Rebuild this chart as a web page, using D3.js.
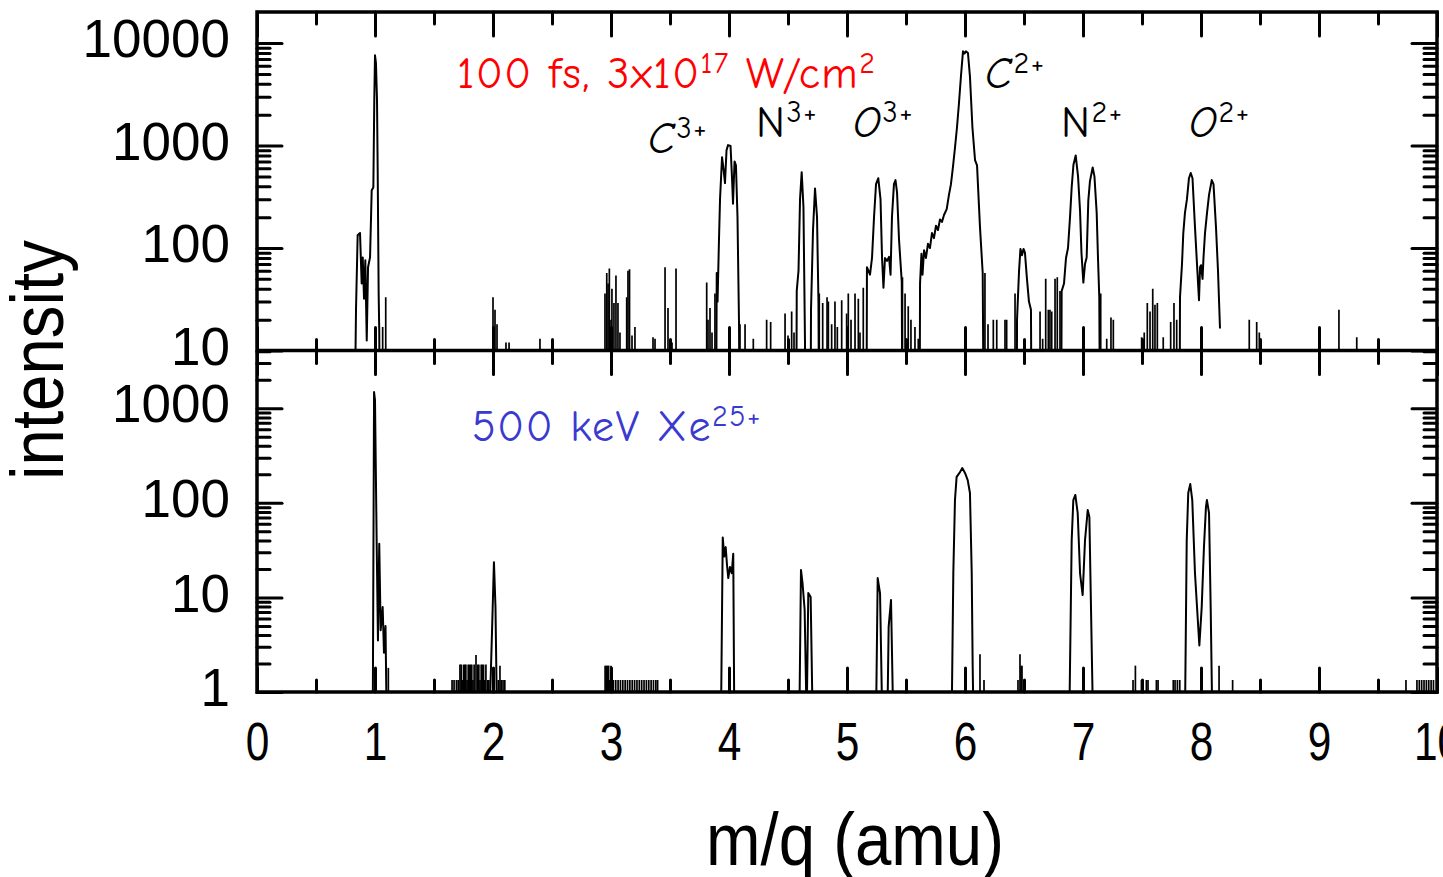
<!DOCTYPE html>
<html>
<head>
<meta charset="utf-8">
<script src="https://cdn.jsdelivr.net/npm/d3@7"></script>
<style>
body { margin: 0; background: #fff; }
svg { display: block; }
.tick line { stroke: #000; stroke-width: 3; stroke-linecap: round; }
.ylab text { font-family: "Liberation Sans", Arial, sans-serif; font-size: 53px; fill: #000; }
.xlab text { font-family: "Liberation Sans", Arial, sans-serif; font-size: 53px; fill: #000; }
.note { font-family: "Comic Sans MS", "Comic Neue", "Noto Sans", sans-serif; font-size: 44px; letter-spacing: 1.5px; }
.title { font-family: "Liberation Sans", Arial, sans-serif; font-size: 74px; fill: #000; }
</style>
</head>
<body>
<script>
// x ticks (m/q) and y decades
var mqMajor = [0, 1, 2, 3, 4, 5, 6, 7, 8, 9, 10];
var mqMinor = [0.5, 1.5, 2.5, 3.5, 4.5, 5.5, 6.5, 7.5, 8.5, 9.5];
var laserDecades = [10, 100, 1000, 10000];
var ionDecades = [1, 10, 100, 1000];

// 100 fs laser spectrum: [m/q, intensity]; 1 = below the axis
var laserTrace = [
  [0.80,1],[0.825,1],[0.839,25],[0.853,133],[0.873,140],[0.887,45],[0.896,81],[0.907,32],[0.918,76],
  [0.930,12.5],[0.941,65],[0.958,81],[0.972,366],[0.986,390],[0.994,2780],[1.000,7600],[1.008,6400],
  [1.017,2780],[1.023,540],[1.031,36],[1.036,15.7],[1.042,1],
  [3.890,1],[3.896,57],[3.903,30],[3.915,120],[3.924,300],[3.941,770],[3.953,600],[3.966,430],[3.979,900],
  [3.992,1010],[4.013,990],[4.025,500],[4.034,270],[4.047,700],[4.059,640],[4.072,200],[4.085,18],[4.090,1],
  [4.570,1],[4.574,38],[4.589,60],[4.602,300],[4.616,550],[4.631,250],[4.644,12],[4.650,1],
  [4.690,1],[4.695,25],[4.712,150],[4.729,380],[4.746,200],[4.758,30],[4.765,1],
  [5.165,1],[5.169,65],[5.195,55],[5.212,80],[5.229,200],[5.246,420],[5.265,480],[5.284,300],[5.297,80],
  [5.309,41],[5.322,80],[5.339,75],[5.356,82],[5.369,55],[5.381,200],[5.398,420],[5.411,460],[5.424,350],
  [5.441,120],[5.464,47],[5.470,1],
  [5.615,1],[5.619,45],[5.631,88],[5.640,55],[5.653,95],[5.669,80],[5.686,110],[5.703,100],[5.720,140],
  [5.737,125],[5.754,165],[5.771,150],[5.788,190],[5.805,180],[5.822,210],[5.845,240],[5.864,330],
  [5.881,420],[5.898,620],[5.915,950],[5.932,1500],[5.949,2600],[5.966,4800],[5.983,8300],[5.996,7900],
  [6.008,8300],[6.025,8000],[6.042,4700],[6.063,1500],[6.085,720],[6.102,640],[6.127,160],[6.150,57],[6.160,1],
  [6.438,1],[6.441,20],[6.458,60],[6.470,98],[6.483,85],[6.496,98],[6.508,90],[6.525,50],[6.542,30],
  [6.559,25],[6.565,1],
  [6.815,1],[6.819,38],[6.839,45],[6.856,80],[6.873,100],[6.890,200],[6.904,390],[6.919,650],[6.938,800],
  [6.958,500],[6.975,230],[6.987,90],[7.003,46],[7.017,70],[7.031,81],[7.045,290],[7.059,450],[7.082,610],
  [7.097,500],[7.116,220],[7.127,80],[7.138,33],[7.145,1],
  [7.818,1],[7.822,33],[7.839,70],[7.850,140],[7.864,220],[7.881,300],[7.898,480],[7.913,540],[7.928,480],
  [7.949,160],[7.966,70],[7.983,31],[7.992,65],[8.000,68],[8.013,50],[8.021,80],[8.034,140],[8.051,220],
  [8.068,330],[8.091,460],[8.106,420],[8.127,160],[8.144,60],[8.161,16.4]
];

// isolated noise counts in the laser spectrum: [m/q, intensity]
var laserNoise = [
  [1.065,17],[1.091,33],
  [2.000,33],[2.017,25],[2.034,18],[2.110,12],[2.136,12],[2.398,13],
  [2.949,36],[2.964,57],[2.975,45],[2.986,63],[3.000,20],[3.008,40],[3.025,29],[3.042,54],[3.059,29],
  [3.076,15],[3.133,33],[3.144,60],[3.157,62],[3.178,14],[3.203,17],[3.356,13.5],[3.373,13],
  [3.458,65],[3.483,26],[3.517,12],[3.551,63],
  [3.811,46],[3.822,20],[3.839,26],[3.856,15],[3.881,36],
  [4.093,18],[4.136,18],[4.206,13],[4.319,20],[4.353,19],[4.475,23],[4.500,14],[4.531,24],[4.551,15],
  [4.765,36],[4.794,29],[4.831,33],[4.842,30],[4.870,18],[4.898,30],[4.918,17],[4.955,31],[4.997,23],
  [5.011,36],[5.034,20],[5.068,36],[5.096,32],[5.110,15],[5.138,41],
  [5.470,52],[5.492,36],[5.519,27],[5.542,20],[5.576,17],[5.604,13],
  [6.169,57],[6.195,18],[6.240,20],[6.269,20],[6.339,20],[6.353,20],[6.424,36],
  [6.636,24],[6.658,13],[6.684,50],[6.706,25],[6.720,25],[6.735,24],[6.763,50],[6.782,52],[6.805,38],
  [7.150,36],[7.201,13],[7.237,21],[7.257,20],
  [7.497,13.5],[7.519,15],[7.545,29],[7.568,24],[7.591,40],[7.610,28],[7.630,29],[7.680,13.5],
  [7.743,19],[7.771,29],[7.794,20],
  [8.409,20],[8.472,19],[8.494,15],[9.169,25],[9.320,13.5]
];

// 500 keV Xe25+ spectrum: [m/q, intensity]; 0.5 = below the axis
var ionTrace = [
  [0.970,0.5],[0.981,0.5],[0.992,1480],[1.000,1220],[1.014,40],[1.025,3.5],[1.036,37],[1.048,4.5],
  [1.065,7.9],[1.076,2.6],[1.089,5],[1.099,0.5],
  [1.970,0.5],[1.992,4.5],[2.008,23.6],[2.021,7.9],[2.034,0.5],
  [3.932,0.5],[3.947,43],[3.960,27],[3.972,34],[3.983,22],[3.994,16],[4.008,21],[4.023,18],[4.036,29],[4.045,0.5],
  [4.596,0.5],[4.610,19.5],[4.623,14.2],[4.641,7.4],[4.658,0.5],[4.672,11.1],[4.692,10.1],[4.709,0.5],
  [5.246,0.5],[5.260,16],[5.280,11],[5.299,0.5],[5.342,0.5],[5.353,4.9],[5.373,9.4],[5.392,0.5],
  [5.887,0.5],[5.901,18],[5.915,107],[5.929,188],[5.958,211],[5.977,233],[6.000,207],[6.023,174],
  [6.042,127],[6.057,18],[6.065,1.9],[6.072,0.5],
  [6.884,0.5],[6.904,40],[6.918,107],[6.935,121],[6.955,78],[6.975,18],[6.997,10.6],[7.017,40],
  [7.040,84],[7.054,71],[7.065,12],[7.079,1.3],[7.085,0.5],
  [7.864,0.5],[7.879,40],[7.892,127],[7.909,158],[7.926,107],[7.949,18],[7.986,3.1],[8.006,7.9],
  [8.025,34],[8.042,90],[8.050,107],[8.068,78],[8.082,7.9],[8.096,0.5]
];

// low-count noise in the ion spectrum: [m/q, intensity]
var ionNoise = [
  [1.113,1.8],
  [1.653,1.34],[1.670,1.34],[1.690,1.34],[1.705,1.34],[1.720,1.95],[1.730,1.95],[1.740,1.34],[1.750,1.95],
  [1.760,1.95],[1.770,1.95],[1.780,1.34],[1.790,1.95],[1.800,1.95],[1.810,1.95],[1.820,1.95],[1.830,1.34],
  [1.840,1.95],[1.856,2.46],[1.870,1.95],[1.880,1.95],[1.890,1.34],[1.900,1.95],[1.910,1.95],[1.920,1.95],
  [1.930,1.34],[1.940,1.95],[1.955,1.34],[1.965,1.34],[2.045,1.34],[2.059,1.9],[2.070,1.34],[2.085,1.34],[2.100,1.34],
  [2.950,1.9],[2.960,1.9],[2.970,1.9],[2.980,1.9],[2.990,1.34],[3.000,1.9],[3.010,1.34],[3.020,1.34],
  [3.040,1.34],[3.060,1.34],[3.080,1.34],[3.100,1.34],[3.120,1.34],[3.140,1.34],[3.160,1.34],[3.180,1.34],
  [3.200,1.34],[3.220,1.34],[3.240,1.34],[3.260,1.34],[3.280,1.34],[3.300,1.34],[3.320,1.34],[3.340,1.34],
  [3.360,1.34],[3.380,1.34],[3.395,1.34],
  [6.127,2.5],[6.161,1.34],
  [6.449,1.34],[6.466,2.5],[6.475,1.9],[6.483,1.9],[6.500,1.34],
  [7.424,1.34],[7.444,1.9],[7.495,1.34],[7.509,1.34],[7.537,1.34],[7.551,1.34],[7.622,1.34],[7.636,1.34],
  [7.765,1.34],[7.780,1.34],[7.800,1.34],[7.820,1.34],
  [8.153,1.9],[8.268,1.34],
  [9.737,1.34],[9.830,1.34],[9.850,1.34],[9.870,1.34],[9.890,1.34],[9.910,1.34],[9.930,1.34],[9.950,1.34],[9.970,1.34]
];

var width = 1443, height = 877;
var frame = {left: 257, right: 1437, top: 12, mid: 350.5, bottom: 692};

var x = d3.scaleLinear().domain([0, 10]).range([frame.left, frame.right]);
var yTop = d3.scaleLog().domain([10, 20100]).range([frame.mid, frame.top]);
var yBot = d3.scaleLog().domain([1, 4075]).range([frame.bottom, frame.mid]);

var svg = d3.select("body").append("svg")
    .attr("width", width)
    .attr("height", height);

// minor log ticks 2..9 inside the domain
function minorTicks(scale) {
  var d = scale.domain(), out = [];
  for (var p = Math.floor(Math.log10(d[0])); p <= Math.ceil(Math.log10(d[1])); p++) {
    for (var k = 2; k <= 9; k++) {
      var v = k * Math.pow(10, p);
      if (v > d[0] && v < d[1] * 0.99) out.push(v);
    }
  }
  return out;
}

var noDomain = function(g) { g.select(".domain").remove(); };

// clip each panel
var defs = svg.append("defs");
defs.append("clipPath").attr("id", "clipTop").append("rect")
    .attr("x", frame.left).attr("y", frame.top)
    .attr("width", frame.right - frame.left).attr("height", frame.mid - frame.top);
defs.append("clipPath").attr("id", "clipBot").append("rect")
    .attr("x", frame.left).attr("y", frame.mid)
    .attr("width", frame.right - frame.left).attr("height", frame.bottom - frame.mid);

function drawPanel(id, y, trace, noise, floor) {
  var g = svg.append("g").attr("clip-path", "url(#" + id + ")");
  var line = d3.line().x(function(d) { return x(d[0]); }).y(function(d) { return y(d[1]); });
  g.append("path")
      .datum(trace)
      .attr("d", line)
      .attr("fill", "none")
      .attr("stroke", "#000")
      .attr("stroke-width", 2)
      .attr("stroke-linejoin", "round");
  g.selectAll("line.noise")
    .data(noise)
    .join("line")
      .attr("class", "noise")
      .attr("x1", function(d) { return x(d[0]); })
      .attr("x2", function(d) { return x(d[0]); })
      .attr("y1", y(floor))
      .attr("y2", function(d) { return y(d[1]); })
      .attr("stroke", "#000")
      .attr("stroke-width", 1.7);
}

drawPanel("clipTop", yTop, laserTrace, laserNoise, 1);
drawPanel("clipBot", yBot, ionTrace, ionNoise, 0.5);

// x ticks on the four horizontal edges, all pointing inward
function xTicks(axisFn, ypos, major, minor, labels) {
  svg.append("g").attr("transform", "translate(0," + ypos + ")")
      .call(axisFn(x).tickValues(mqMinor).tickSize(minor).tickFormat(""))
      .call(noDomain);
  var g = svg.append("g").attr("class", "xlab").attr("transform", "translate(0," + ypos + ")")
      .call(axisFn(x).tickValues(mqMajor).tickSize(major).tickPadding(30)
        .tickFormat(labels ? d3.format("d") : ""))
      .call(noDomain);
  // narrow digits like the original
  g.selectAll("text").attr("font-size", null).attr("font-family", null)
      .attr("transform", "scale(0.8,1)");
}
xTicks(d3.axisTop, frame.top, -24, -12, false);
xTicks(d3.axisBottom, frame.mid, -23, -11, false);
xTicks(d3.axisTop, frame.mid, -24, -13, false);
xTicks(d3.axisBottom, frame.bottom, -24, -12, true);

// y ticks on both sides of both panels
function yTicks(y, decades) {
  svg.append("g").attr("transform", "translate(" + frame.left + ",0)")
      .call(d3.axisLeft(y).tickValues(minorTicks(y)).tickSize(-13).tickFormat(""))
      .call(noDomain);
  var g = svg.append("g").attr("class", "ylab").attr("transform", "translate(" + frame.left + ",0)")
      .call(d3.axisLeft(y).tickValues(decades).tickSize(-25).tickPadding(27).tickFormat(d3.format("d")))
      .call(noDomain);
  g.selectAll("text").attr("font-size", null).attr("font-family", null).attr("dy", "0.26em");
  svg.append("g").attr("transform", "translate(" + frame.right + ",0)")
      .call(d3.axisRight(y).tickValues(minorTicks(y)).tickSize(-13).tickFormat(""))
      .call(noDomain);
  svg.append("g").attr("transform", "translate(" + frame.right + ",0)")
      .call(d3.axisRight(y).tickValues(decades).tickSize(-25).tickFormat(""))
      .call(noDomain);
}
yTicks(yTop, laserDecades);
yTicks(yBot, ionDecades);

// frame and divider
svg.append("rect")
    .attr("x", frame.left).attr("y", frame.top)
    .attr("width", frame.right - frame.left).attr("height", frame.bottom - frame.top)
    .attr("fill", "none").attr("stroke", "#000").attr("stroke-width", 3.5);
svg.append("line")
    .attr("x1", frame.left).attr("x2", frame.right)
    .attr("y1", frame.mid).attr("y2", frame.mid)
    .attr("stroke", "#000").attr("stroke-width", 3.5);

// axis titles, squeezed to the narrow face of the original
svg.append("text").attr("class", "title")
    .attr("text-anchor", "middle")
    .attr("transform", "translate(63,360) rotate(-90)")
    .attr("textLength", 240).attr("lengthAdjust", "spacingAndGlyphs")
    .text("intensity");
svg.append("text").attr("class", "title")
    .attr("text-anchor", "middle")
    .attr("x", 855).attr("y", 865)
    .attr("textLength", 298).attr("lengthAdjust", "spacingAndGlyphs")
    .text("m/q (amu)");

// annotations built from text parts, superscripts raised
function note(xp, yp, color, parts) {
  var t = svg.append("text").attr("class", "note").attr("x", xp).attr("y", yp).attr("fill", color);
  var shift = 0;
  parts.forEach(function(p) {
    var up = p.sup ? -15 : 0;
    t.append("tspan")
        .attr("dy", up - shift)
        .attr("font-size", p.sup ? "30px" : null)
        .attr("font-style", p.italic ? "italic" : null)
        .text(p.t);
    shift = up;
  });
}
note(457, 88, "#ff0000", [{t: "100 fs, 3x10"}, {t: "17", sup: true}, {t: " W/cm"}, {t: "2", sup: true}]);
note(472, 441, "#3a3acf", [{t: "500 keV Xe"}, {t: "25+", sup: true}]);

var ionLabels = [
  {el: "C", charge: "3+", x: 648, y: 153, italic: true},
  {el: "N", charge: "3+", x: 756, y: 137},
  {el: "O", charge: "3+", x: 853, y: 137, italic: true},
  {el: "C", charge: "2+", x: 985, y: 88, italic: true},
  {el: "N", charge: "2+", x: 1061, y: 137},
  {el: "O", charge: "2+", x: 1189, y: 137, italic: true}
];
ionLabels.forEach(function(d) {
  note(d.x, d.y, "#000", [{t: d.el, italic: d.italic}, {t: d.charge, sup: true}]);
});
</script>
</body>
</html>
